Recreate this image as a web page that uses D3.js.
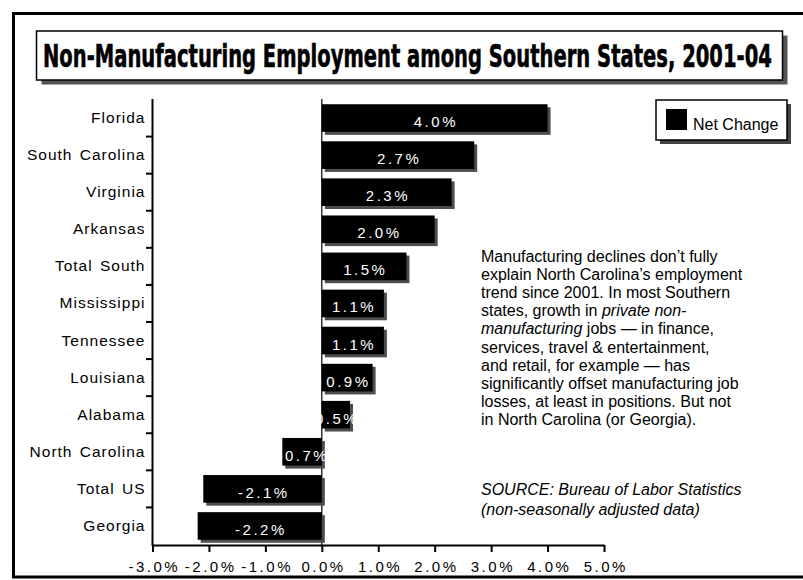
<!DOCTYPE html>
<html>
<head>
<meta charset="utf-8">
<script src="https://cdn.jsdelivr.net/npm/d3@7"></script>
<style>
  html, body { margin: 0; padding: 0; background: #fff; }
  svg { display: block; }
</style>
</head>
<body>
<svg id="chart" width="803" height="580"></svg>
<script>
// Net change in non-manufacturing employment, 2001-04 (percent)
const categories = ["Florida", "South Carolina", "Virginia", "Arkansas", "Total South",
  "Mississippi", "Tennessee", "Louisiana", "Alabama", "North Carolina", "Total US", "Georgia"];
const netChange = [4.0, 2.7, 2.3, 2.0, 1.5, 1.1, 1.1, 0.9, 0.5, -0.7, -2.1, -2.2];
const xTickValues = [-3, -2, -1, 0, 1, 2, 3, 4, 5];
const seriesName = "Net Change";
const titleText = "Non-Manufacturing Employment among Southern States, 2001-04";
const noteLines = [
  [["Manufacturing declines don\u2019t fully", false]],
  [["explain North Carolina\u2019s employment", false]],
  [["trend since 2001. In most Southern", false]],
  [["states, growth in ", false], ["private non-", true]],
  [["manufacturing", true], [" jobs \u2014 in finance,", false]],
  [["services, travel & entertainment,", false]],
  [["and retail, for example \u2014 has", false]],
  [["significantly offset manufacturing job", false]],
  [["losses, at least in positions. But not", false]],
  [["in North Carolina (or Georgia).", false]]
];
const sourceLines = ["SOURCE: Bureau of Labor Statistics", "(non-seasonally adjusted data)"];

const rows = categories.map((c, i) => ({ name: c, value: netChange[i] }));
const svg = d3.select("#chart");
const sans = "'Liberation Sans', Arial, Helvetica, sans-serif";

// outer frame
svg.append("rect")
  .attr("x", 13.5).attr("y", 13.5).attr("width", 850).attr("height", 563.5)
  .attr("fill", "none").attr("stroke", "#000").attr("stroke-width", 3);

// title panel with drop shadow
svg.append("rect").attr("x", 41.5).attr("y", 35.5).attr("width", 746).attr("height", 49)
  .attr("fill", "#555");
svg.append("rect").attr("x", 36.5).attr("y", 31).attr("width", 746).attr("height", 49)
  .attr("fill", "#fff").attr("stroke", "#000").attr("stroke-width", 1.5);
const title = svg.append("text")
  .attr("x", 0).attr("y", 0)
  .style("font-family", "'Liberation Sans Narrow', 'DejaVu Sans Condensed', sans-serif")
  .style("font-weight", "bold").style("font-size", "32px")
  .attr("fill", "#000").attr("stroke", "#000").attr("stroke-width", 0.6)
  .text(titleText);
// squeeze the heading horizontally so it fills the panel
const titleW = title.node().getComputedTextLength();
title.attr("transform", `translate(43,67) scale(${Math.min(1, 729 / titleW)},1)`);

// scales
const x = d3.scaleLinear().domain([-3, 5]).range([152.5, 604]);
const y = d3.scaleBand().domain(categories).range([99.5, 544.5])
  .paddingInner(0.255).paddingOuter(0.1275);
const axisY = 545;

// zero reference line
svg.append("line")
  .attr("x1", x(0)).attr("x2", x(0)).attr("y1", 99).attr("y2", axisY)
  .attr("stroke", "#000").attr("stroke-width", 1.2);

// bar shadows
svg.append("g").selectAll("rect").data(rows).join("rect")
  .attr("x", d => Math.min(x(0), x(d.value)) + 3)
  .attr("y", d => y(d.name) + 3)
  .attr("width", d => Math.abs(x(d.value) - x(0)))
  .attr("height", y.bandwidth())
  .attr("fill", "#4d4d4d");

// bars
svg.append("g").selectAll("rect").data(rows).join("rect")
  .attr("x", d => Math.min(x(0), x(d.value)))
  .attr("y", d => y(d.name))
  .attr("width", d => Math.abs(x(d.value) - x(0)))
  .attr("height", y.bandwidth())
  .attr("fill", "#000");

// value labels (white, centred on each bar)
svg.append("g").selectAll("text").data(rows).join("text")
  .attr("x", d => (x(0) + x(d.value)) / 2 + 1.2)
  .attr("y", d => y(d.name) + y.bandwidth() / 2 + 9)
  .attr("text-anchor", "middle")
  .style("font-family", sans).style("font-size", "15px").style("letter-spacing", "2.5px")
  .attr("fill", "#fff")
  .text(d => d.value.toFixed(1) + "%");

// category axis
const catAxis = svg.append("g");
catAxis.append("line")
  .attr("x1", 152.5).attr("x2", 152.5).attr("y1", 99).attr("y2", axisY + 1)
  .attr("stroke", "#000").attr("stroke-width", 2);
catAxis.selectAll("line.tick").data(categories.slice(1)).join("line")
  .attr("class", "tick")
  .attr("x1", 146).attr("x2", 152.5)
  .attr("y1", d => y(d) - y.step() * y.paddingInner() / 2)
  .attr("y2", d => y(d) - y.step() * y.paddingInner() / 2)
  .attr("stroke", "#000").attr("stroke-width", 2);
catAxis.selectAll("text").data(categories).join("text")
  .attr("x", 145.5)
  .attr("y", d => y(d) + y.bandwidth() / 2 + 5)
  .attr("text-anchor", "end")
  .style("font-family", sans).style("font-size", "15.5px").style("letter-spacing", "1px")
  .style("word-spacing", "2px")
  .attr("fill", "#000")
  .text(d => d);

// value axis
const xAxis = svg.append("g").attr("transform", `translate(0,${axisY})`)
  .call(d3.axisBottom(x).tickValues(xTickValues).tickSizeInner(7).tickSizeOuter(0)
    .tickFormat(d => d.toFixed(1) + "%"));
xAxis.select(".domain").attr("stroke", "#000").attr("stroke-width", 2);
xAxis.selectAll(".tick line").attr("stroke", "#000").attr("stroke-width", 2);
xAxis.selectAll(".tick text")
  .attr("y", 27).attr("dy", 0).attr("dx", "1.25px")
  .attr("fill", "#000")
  .style("font-family", sans).style("font-size", "15px").style("letter-spacing", "2.5px");

// legend
svg.append("rect").attr("x", 660).attr("y", 104).attr("width", 131).attr("height", 40)
  .attr("fill", "#444");
svg.append("rect").attr("x", 656).attr("y", 100).attr("width", 131).attr("height", 40)
  .attr("fill", "#fff").attr("stroke", "#000").attr("stroke-width", 1.5);
svg.append("rect").attr("x", 666).attr("y", 109).attr("width", 21).attr("height", 21)
  .attr("fill", "#000");
svg.append("text").attr("x", 693).attr("y", 130)
  .style("font-family", sans).style("font-size", "16px").attr("fill", "#000")
  .text(seriesName);

// explanatory note
const note = svg.append("text")
  .style("font-family", sans).style("font-size", "16px").attr("fill", "#000");
noteLines.forEach((parts, i) => {
  parts.forEach(([txt, ital], j) => {
    const t = note.append("tspan").text(txt).style("font-style", ital ? "italic" : "normal");
    if (j === 0) t.attr("x", 481).attr("y", 262 + i * 18.1);
  });
});

// source
svg.append("text")
  .style("font-family", sans).style("font-size", "16px").style("font-style", "italic")
  .attr("fill", "#000")
  .selectAll("tspan").data(sourceLines).join("tspan")
  .attr("x", 481).attr("y", (d, i) => 495 + i * 19.5)
  .text(d => d);
</script>
</body>
</html>
